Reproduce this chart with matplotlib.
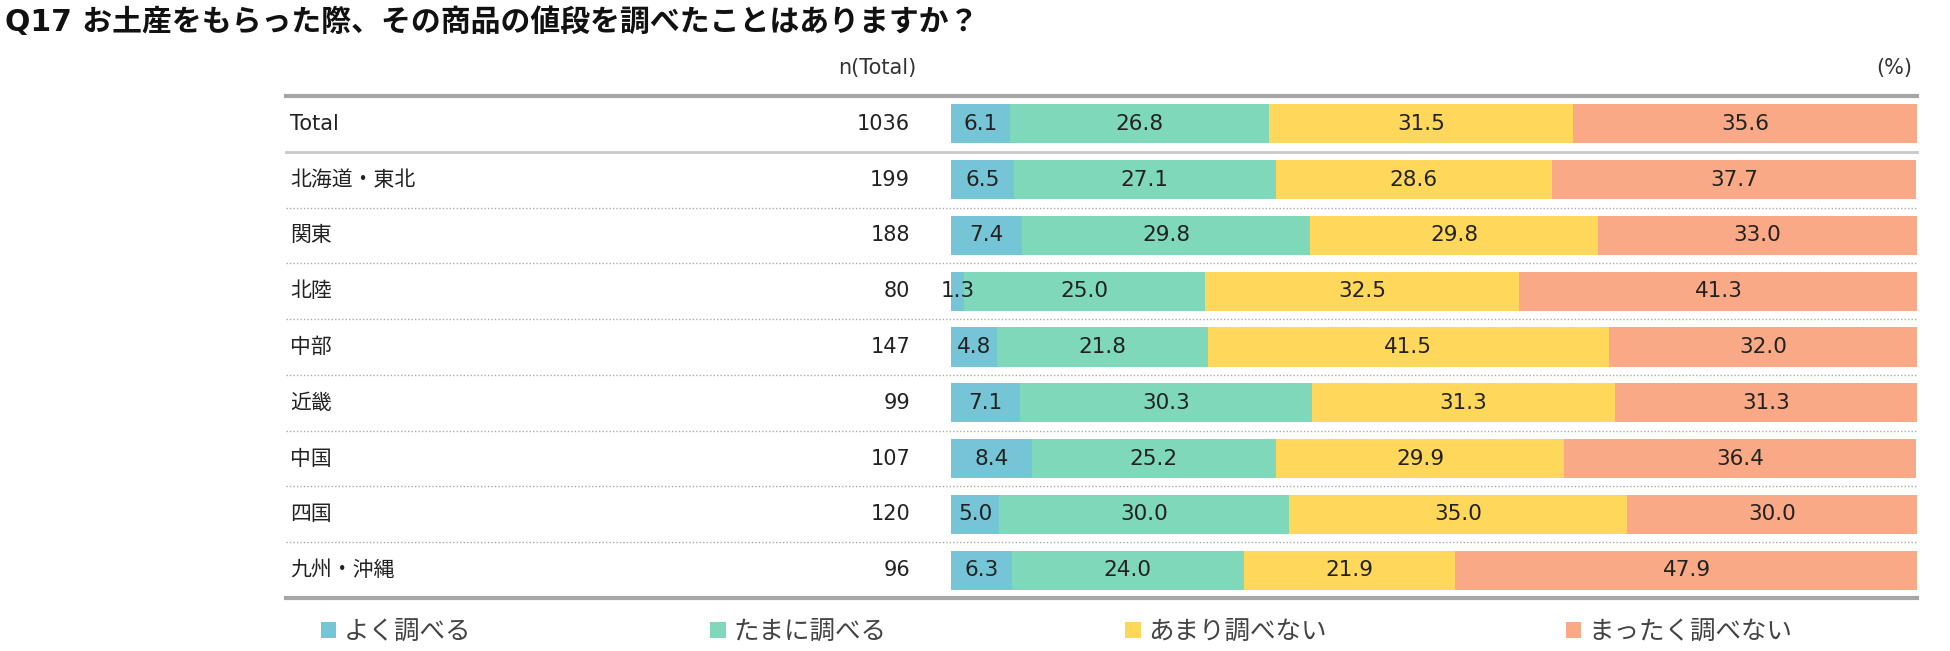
import matplotlib
matplotlib.use("Agg")
import matplotlib.pyplot as plt
import matplotlib.transforms as mtransforms

plt.rcParams['font.family'] = ['DejaVu Sans', 'Noto Sans CJK JP']

title = 'Q17 お土産をもらった際、その商品の値段を調べたことはありますか？'
regions = ['Total', '北海道・東北', '関東', '北陸', '中部', '近畿', '中国', '四国', '九州・沖縄']
n_total = [1036, 199, 188, 80, 147, 99, 107, 120, 96]
answers = ['よく調べる', 'たまに調べる', 'あまり調べない', 'まったく調べない']
often = [6.1, 6.5, 7.4, 1.3, 4.8, 7.1, 8.4, 5.0, 6.3]
sometimes = [26.8, 27.1, 29.8, 25.0, 21.8, 30.3, 25.2, 30.0, 24.0]
rarely = [31.5, 28.6, 29.8, 32.5, 41.5, 31.3, 29.9, 35.0, 21.9]
never = [35.6, 37.7, 33.0, 41.3, 32.0, 31.3, 36.4, 30.0, 47.9]
colors = ['#75c5d6', '#7fd8b9', '#ffd75a', '#f9a985']

W, H = 1950, 651
fig = plt.figure(figsize=(W / 100, H / 100), dpi=100)

# bar area in pixels: x 951..1917, rows between header line (96) and bottom line (598)
ax = fig.add_axes([951 / W, 1 - 598 / H, (1917 - 951) / W, (598 - 96) / H])
ax.set_xlim(0, 100)
ax.set_ylim(len(regions) - 0.5, -0.5)
ax.axis('off')

ys = list(range(len(regions)))
left = [0] * len(regions)
handles = []
for vals, col in zip([often, sometimes, rarely, never], colors):
    bars = ax.barh(ys, vals, left=left, height=0.7, color=col, linewidth=0)
    handles.append(bars)
    for y, l, v in zip(ys, left, vals):
        ax.text(l + v / 2, y, f'{v:.1f}', ha='center', va='center',
                fontsize=15.5, color='#222222')
    left = [a + b for a, b in zip(left, vals)]

# row labels and n, x in figure coords, y in data
tr = mtransforms.blended_transform_factory(fig.transFigure, ax.transData)
for y, name, n in zip(ys, regions, n_total):
    ax.text(290 / W, y, name, transform=tr, ha='left', va='center',
            fontsize=15, color='#222222')
    ax.text(910 / W, y, str(n), transform=tr, ha='right', va='center',
            fontsize=15, color='#222222')

# lines
x0, x1 = 286 / W, 1917 / W
ax.plot([x0, x1], [-0.5, -0.5], transform=tr, color='#a6a6a6', lw=3, clip_on=False)
ax.plot([x0, x1], [len(regions) - 0.5] * 2, transform=tr, color='#a6a6a6', lw=3, clip_on=False)
ax.plot([x0, x1], [0.5, 0.5], transform=tr, color='#c8c8c8', lw=2, clip_on=False)
for y in ys[1:-1]:
    ax.plot([x0, x1], [y + 0.5, y + 0.5], transform=tr, color='#aaaaaa', lw=1,
            ls=(0, (1, 1.5)), clip_on=False)

fig.text(5 / W, 1 - 22 / H, title, fontsize=21.5, weight='bold', va='center', color='#111111')
fig.text(877 / W, 1 - 68 / H, 'n(Total)', fontsize=15, ha='center', va='center', color='#333333')
fig.text(1912 / W, 1 - 68 / H, '(%)', fontsize=15, ha='right', va='center', color='#333333')

fig.legend(handles, answers, ncol=4, loc='center left',
           bbox_to_anchor=(321 / W, 1 - 632 / H), frameon=False,
           fontsize=18.4, labelcolor='#444444', handlelength=0.6, handleheight=0.6,
           handletextpad=0.3, columnspacing=9.35, borderpad=0, borderaxespad=0)

fig.savefig('out.png', dpi=100)
